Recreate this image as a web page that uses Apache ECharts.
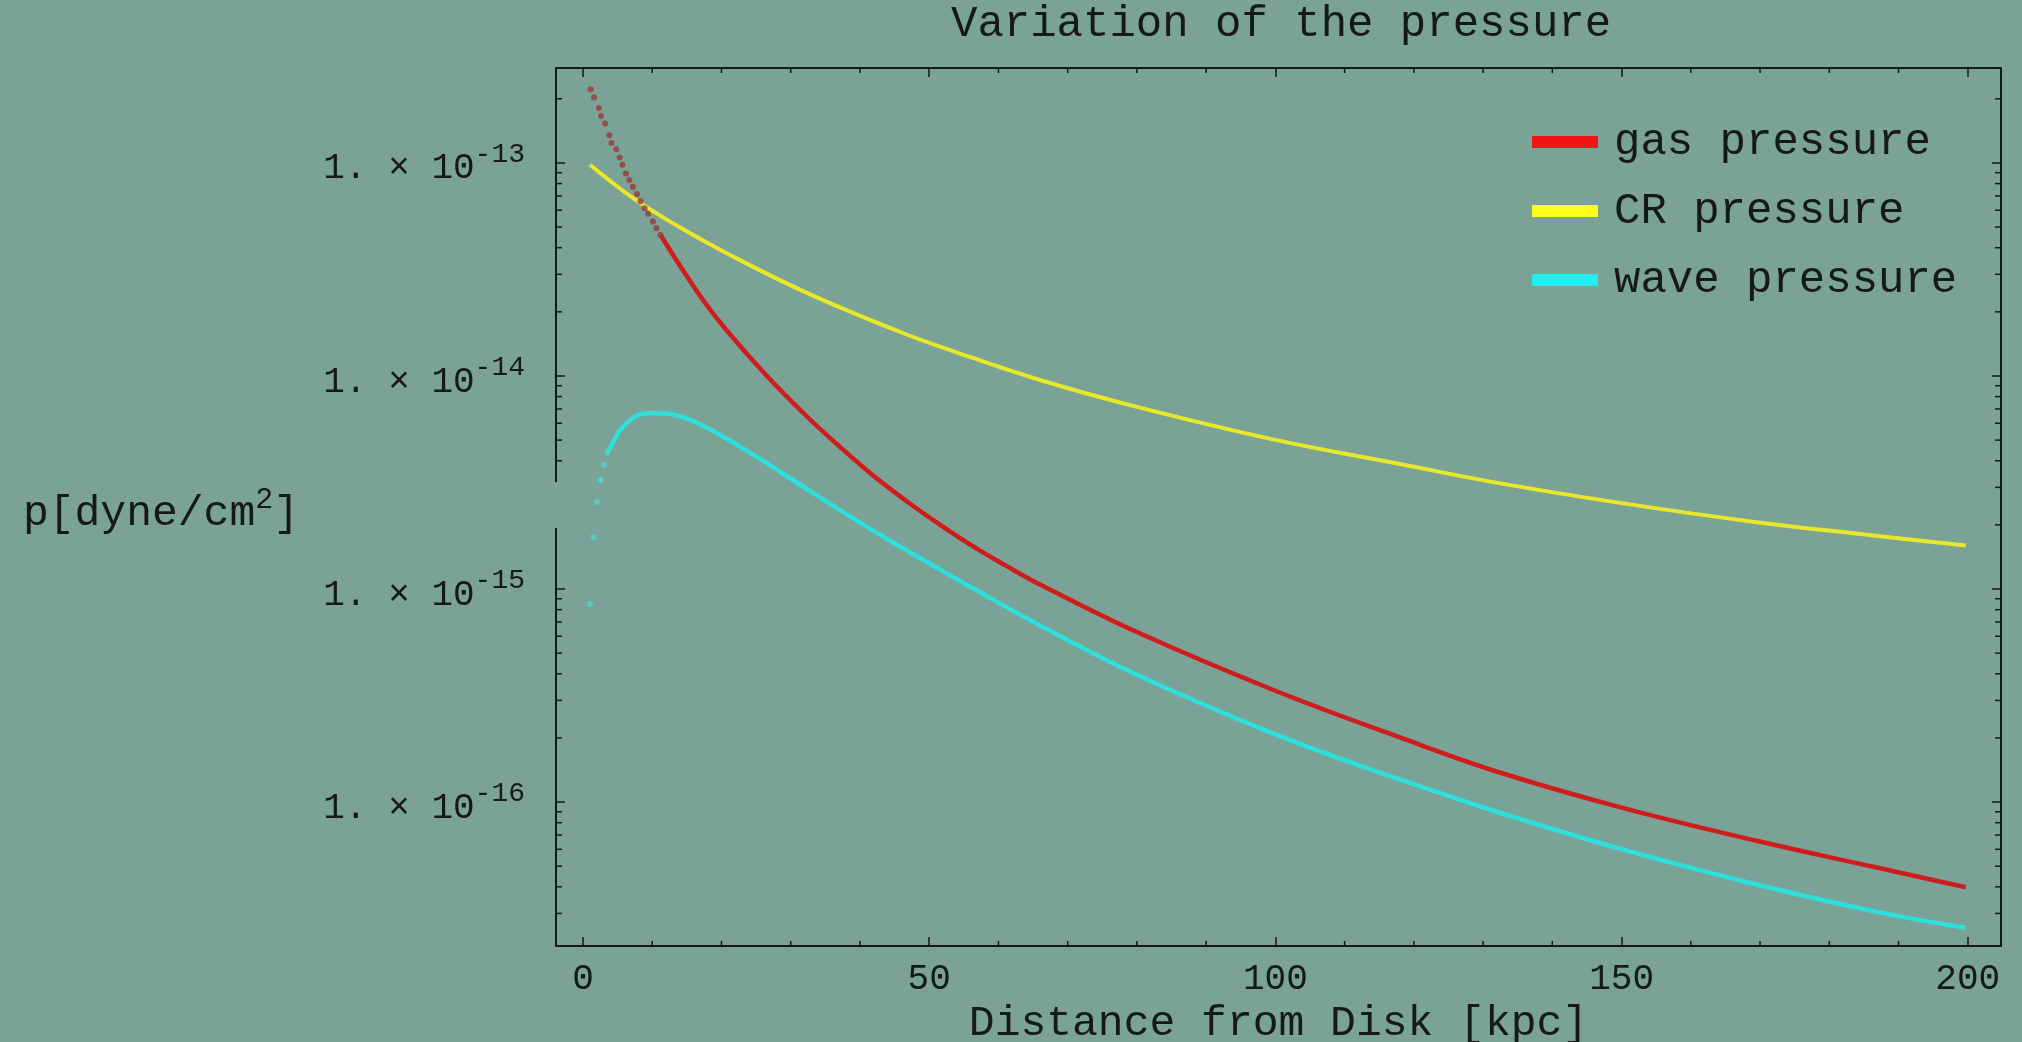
<!DOCTYPE html>
<html>
<head>
<meta charset="utf-8">
<script src="https://cdn.jsdelivr.net/npm/echarts@6/dist/echarts.min.js"></script>
<style>
  html, body { margin: 0; padding: 0; background: #7aa296; }
  #chart { width: 2022px; height: 1042px; }
</style>
</head>
<body>
<div id="chart"></div>
<script>
// Distance from the disk [kpc] and pressure [dyne/cm^2] of the three components.
// Gas pressure: separate sample points on the steep inner part, then the curve.
const gasDotX = [1.1, 1.6, 2.3, 2.6, 3.2, 3.8, 4.1, 4.8, 5.3, 5.7, 6.2, 6.7, 7.2, 7.8, 8.3, 8.9, 9.4, 10.1, 10.6, 11.2];
const gasDotP = [2.22e-13, 2.03e-13, 1.81e-13, 1.66e-13, 1.53e-13, 1.35e-13, 1.24e-13, 1.16e-13, 1.06e-13, 9.8e-14,
                 8.93e-14, 8.32e-14, 7.74e-14, 7.14e-14, 6.61e-14, 6.12e-14, 5.77e-14, 5.31e-14, 4.93e-14, 4.59e-14];
const gasX = [11.2, 16.9, 20.8, 26.5, 32.3, 37.1, 41.9, 46.7, 51.6, 56.4, 61.2, 66, 80, 100, 118, 132.3, 150, 169.5, 186.7, 199.7];
const gasP = [4.59e-14, 2.38e-14, 1.63e-14, 1.005e-14, 6.47e-15, 4.65e-15, 3.41e-15, 2.59e-15, 2.0e-15, 1.58e-15,
              1.28e-15, 1.05e-15, 6.28e-16, 3.33e-16, 2.01e-16, 1.38e-16, 9.42e-17, 6.58e-17, 4.94e-17, 3.98e-17];

// Cosmic-ray pressure.
const crX = [1.0, 7.3, 13.1, 21.5, 32.4, 46, 53.1, 66, 80, 100, 118, 132.3, 150, 169.5, 186.7, 199.7];
const crP = [9.8e-14, 6.81e-14, 5.18e-14, 3.66e-14, 2.45e-14, 1.60e-14, 1.32e-14, 9.57e-15, 7.16e-15, 5.01e-15,
             3.86e-15, 3.14e-15, 2.53e-15, 2.06e-15, 1.78e-15, 1.60e-15];

// Wave pressure: rising sample points near the disk, then the curve.
const waveDotX = [1.0, 1.5, 2.0, 2.5, 3.0, 3.5];
const waveDotP = [8.51e-16, 1.754e-15, 2.559e-15, 3.251e-15, 3.819e-15, 4.365e-15];
const waveX = [3.5, 4, 5, 6, 7, 8, 10, 12, 15.5, 19.3, 24.6, 32.3, 41.9, 51.6, 56.4, 66, 80, 100, 118, 132.3, 150, 169.5, 186.7, 199.7];
const waveP = [4.365e-15, 4.645e-15, 5.346e-15, 5.888e-15, 6.281e-15, 6.561e-15, 6.70e-15, 6.67e-15, 6.21e-15, 5.40e-15,
               4.27e-15, 2.95e-15, 1.88e-15, 1.233e-15, 1.005e-15, 6.75e-16, 3.96e-16, 2.08e-16, 1.276e-16, 8.93e-17,
               6.01e-17, 4.10e-17, 3.06e-17, 2.57e-17];

// Axis ranges and ticks.
const xMin = -3.9, xMax = 204.8;
const yMin = 2.11e-17, yMax = 2.79e-13;
const xMinorTicks = [10, 20, 30, 40, 60, 70, 80, 90, 110, 120, 130, 140, 160, 170, 180, 190];
const yDecades = [-17, -16, -15, -14, -13];
const yMinorSteps = [2, 3, 4, 5, 6, 7, 8, 9];

const BG = '#7aa296';
const INK = '#151a18';
const FONT = '"Liberation Mono", "Courier New", monospace';

const zip = (xs, ys) => xs.map((x, i) => [x, ys[i]]);

const yMinorTicks = [];
yDecades.forEach(d => yMinorSteps.forEach(k => {
  const v = k * Math.pow(10, d);
  if (v > yMin && v < yMax) yMinorTicks.push(v);
}));

function powerLabel(v) {
  const lg = Math.log10(v);
  const e = Math.round(lg);
  if (Math.abs(lg - e) > 1e-6) return '';
  return '{b|1. \u00d7 10}{s|' + e + '}';
}

function xMinorTick(params, api) {
  const cs = params.coordSys;
  const x = api.coord([api.value(0), api.value(1)])[0];
  const st = { stroke: INK, lineWidth: 1.5 };
  return { type: 'group', children: [
    { type: 'line', shape: { x1: x, y1: cs.y + cs.height, x2: x, y2: cs.y + cs.height - 5 }, style: st },
    { type: 'line', shape: { x1: x, y1: cs.y, x2: x, y2: cs.y + 5 }, style: st }
  ]};
}

function yMinorTick(params, api) {
  const cs = params.coordSys;
  const y = api.coord([api.value(0), api.value(1)])[1];
  const st = { stroke: INK, lineWidth: 1.5 };
  return { type: 'group', children: [
    { type: 'line', shape: { x1: cs.x, y1: y, x2: cs.x + 6, y2: y }, style: st },
    { type: 'line', shape: { x1: cs.x + cs.width, y1: y, x2: cs.x + cs.width - 6, y2: y }, style: st }
  ]};
}

const frameLine = { show: true, onZero: false, lineStyle: { color: INK, width: 2 } };
const majorTick = { show: true, inside: true, length: 9, lineStyle: { color: INK, width: 1.5 } };

const chart = echarts.init(document.getElementById('chart'));
chart.setOption({
  backgroundColor: BG,
  animation: false,
  title: {
    text: 'Variation of the pressure',
    left: 951, top: 2, padding: 0,
    textStyle: { fontFamily: FONT, fontSize: 44, fontWeight: 'normal', color: INK }
  },
  legend: {
    orient: 'vertical', left: 1532, top: 118, padding: 0,
    itemWidth: 66, itemHeight: 12, itemGap: 21, icon: 'rect', selectedMode: false,
    data: ['gas pressure', 'CR pressure', 'wave pressure'],
    textStyle: { fontFamily: FONT, fontSize: 44, lineHeight: 44, color: INK, padding: [0, 0, 4, 11] }
  },
  grid: { left: 556, right: 21, top: 68, bottom: 96, containLabel: false, outerBoundsMode: 'none' },
  xAxis: [{
    type: 'value', min: xMin, max: xMax, splitNumber: 4, position: 'bottom',
    name: 'Distance from Disk [kpc]', nameLocation: 'middle', nameGap: 52,
    nameTextStyle: { fontFamily: FONT, fontSize: 43, color: INK },
    axisLine: frameLine, axisTick: majorTick, splitLine: { show: false },
    axisLabel: {
      margin: 15, fontFamily: FONT, fontSize: 36, color: INK, showMinLabel: false, showMaxLabel: false,
      formatter: v => (Math.abs(v % 50) < 1e-9 ? String(v) : '')
    }
  }, {
    type: 'value', min: xMin, max: xMax, splitNumber: 4, position: 'top',
    axisLine: frameLine, axisTick: majorTick, splitLine: { show: false }, axisLabel: { show: false }
  }],
  yAxis: [{
    type: 'log', logBase: 10, min: yMin, max: yMax, splitNumber: 4, position: 'left',
    name: '{a|p[dyne/cm}{s|2}{a|]}', nameLocation: 'middle', nameRotate: 0, nameGap: 257,
    nameTextStyle: {
      rich: {
        a: { fontFamily: FONT, fontSize: 43, color: INK, lineHeight: 44, padding: [14, 0, 0, 0] },
        s: { fontFamily: FONT, fontSize: 30, color: INK, lineHeight: 34, verticalAlign: 'top' }
      }
    },
    axisLine: frameLine, axisTick: majorTick, splitLine: { show: false },
    axisLabel: {
      margin: 31, showMinLabel: false, showMaxLabel: false, formatter: powerLabel,
      rich: {
        b: { fontFamily: FONT, fontSize: 36, color: INK, lineHeight: 44, padding: [12, 0, 0, 0] },
        s: { fontFamily: FONT, fontSize: 28, color: INK, lineHeight: 36, verticalAlign: 'top' }
      }
    }
  }, {
    type: 'log', logBase: 10, min: yMin, max: yMax, splitNumber: 4, position: 'right',
    axisLine: frameLine, axisTick: majorTick, splitLine: { show: false }, axisLabel: { show: false }
  }],
  graphic: [{
    // break in the left frame beside the axis title
    type: 'rect', z: 50, shape: { x: 549, y: 482, width: 16, height: 46 }, style: { fill: BG }
  }],
  series: [
    {
      name: 'gas pressure', type: 'line', data: zip(gasX, gasP), smooth: 0.4, showSymbol: false,
      itemStyle: { color: '#f01414' }, lineStyle: { color: '#cf1c1c', width: 4.5 }, z: 3
    },
    {
      name: 'CR pressure', type: 'line', data: zip(crX, crP), smooth: 0.4, showSymbol: false,
      itemStyle: { color: '#ffff1e' }, lineStyle: { color: '#e8e82a', width: 4 }, z: 2
    },
    {
      name: 'wave pressure', type: 'line', data: zip(waveX, waveP), smooth: 0.4, showSymbol: false,
      itemStyle: { color: '#22eeee' }, lineStyle: { color: '#2ee0dc', width: 4.5 }, z: 2
    },
    {
      name: 'gas pressure', type: 'scatter', data: zip(gasDotX, gasDotP), symbolSize: 6,
      itemStyle: { color: '#9c3b36' }, z: 4
    },
    {
      name: 'wave pressure', type: 'scatter', data: zip(waveDotX, waveDotP), symbolSize: 6,
      itemStyle: { color: '#4ad8cc' }, z: 4
    },
    {
      type: 'custom', renderItem: xMinorTick, data: xMinorTicks.map(v => [v, yMax]), silent: true, z: 5
    },
    {
      type: 'custom', renderItem: yMinorTick, data: yMinorTicks.map(v => [xMin, v]), silent: true, z: 5
    }
  ]
});
</script>
</body>
</html>
